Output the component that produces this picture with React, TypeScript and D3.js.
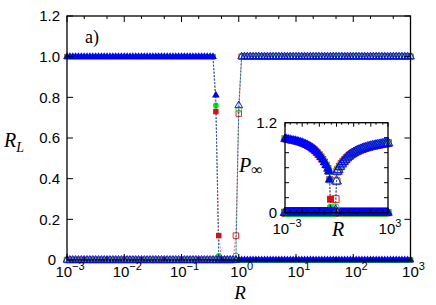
import React, { useEffect, useRef } from 'react';
import * as d3 from 'd3';

const W = 436;
const H = 305;

// sampling grid in log10(R), 20 points per decade
const gridExp = d3.range(-60, 61).map(k => k / 20);

// R_L, filled symbols: 1 at small R, drop near R ~ 0.4
const dropExp = [-0.40, -0.35];
const dropRed = [0.73, 0.12];
const dropGreen = [0.76, 0.02];
const dropBlue = [0.81, 0.005];

// R_L, open symbols: 0 at small R, rise near R ~ 1
const riseExp = [-0.05, 0.0];
const riseRed = [0.12, 0.72];
const riseGreen = [0.02, 0.74];
const riseBlue = [0.0, 0.76];

// inset P_inf, left branch (filled), log10(R) = -3 .. -0.5
const pLeftExp = d3.range(-30, -4).map(k => k / 10);
const pLeft = [0.985, 0.98, 0.975, 0.97, 0.965, 0.961, 0.956, 0.950, 0.944, 0.937,
  0.929, 0.920, 0.910, 0.899, 0.887, 0.873, 0.857, 0.839, 0.819, 0.796,
  0.771, 0.742, 0.710, 0.674, 0.634, 0.588];
// inset P_inf, right branch (open), log10(R) = 0.1 .. 3
const pRightExp = d3.range(1, 31).map(k => k / 10);
const pRight = [0.575, 0.615, 0.65, 0.68, 0.705, 0.73, 0.75, 0.768, 0.784, 0.798,
  0.81, 0.822, 0.832, 0.842, 0.85, 0.858, 0.865, 0.872, 0.878, 0.884,
  0.889, 0.894, 0.899, 0.903, 0.908, 0.912, 0.916, 0.92, 0.924, 0.928];

const insDropExp = [-0.45, -0.40, -0.35];
const insDropRed = [0.55, 0.44, 0.18];
const insDropGreen = [0.55, 0.44, 0.07];
const insDropBlue = [0.55, 0.44, 0.03];
const insRiseExp = [-0.05, 0.0, 0.05];
const insRiseRed = [0.18, 0.42, 0.55];
const insRiseGreen = [0.07, 0.42, 0.55];
const insRiseBlue = [0.03, 0.42, 0.55];

const yTicks = [0, 0.2, 0.4, 0.6, 0.8, 1.0, 1.2];
const yTickLabels = ['0', '0.2', '0.4', '0.6', '0.8', '1.0', '1.2'];
const decades = [-3, -2, -1, 0, 1, 2, 3];
const decadeLabels = ['\u22123', '\u22122', '\u22121', '0', '1', '2', '3'];

const RED = '#ff0000';
const GREEN = '#00ee00';
const BLUE = '#0000ff';

type Pt = [number, number];
const eps = 1e-6;
const pairs = (ex: number[], vs: number[]): Pt[] => ex.map((e, i) => [e, vs[i]] as Pt);
const flat = (lo: number, hi: number, v: number): Pt[] =>
  gridExp.filter(e => e >= lo - eps && e <= hi + eps).map(e => [e, v] as Pt);

const mainSeries = [
  { pts: [...flat(-3, -0.45, 1), ...pairs(dropExp, dropRed), ...flat(-0.30, 3, 0)], color: RED, shape: d3.symbolSquare, filled: true },
  { pts: [...flat(-3, -0.45, 1), ...pairs(dropExp, dropGreen), ...flat(-0.30, 3, 0)], color: GREEN, shape: d3.symbolCircle, filled: true },
  { pts: [...flat(-3, -0.45, 1), ...pairs(dropExp, dropBlue), ...flat(-0.30, 3, 0)], color: BLUE, shape: d3.symbolTriangle, filled: true },
  { pts: [...flat(-3, -0.10, 0), ...pairs(riseExp, riseRed), ...flat(0.05, 3, 1)], color: RED, shape: d3.symbolSquare, filled: false },
  { pts: [...flat(-3, -0.10, 0), ...pairs(riseExp, riseGreen), ...flat(0.05, 3, 1)], color: GREEN, shape: d3.symbolCircle, filled: false },
  { pts: [...flat(-3, -0.10, 0), ...pairs(riseExp, riseBlue), ...flat(0.05, 3, 1)], color: BLUE, shape: d3.symbolTriangle, filled: false },
];

const insetSeries = [
  { pts: [...pairs(pLeftExp, pLeft), ...pairs(insDropExp, insDropRed), ...flat(-0.30, 3, 0)], color: RED, shape: d3.symbolSquare, filled: true },
  { pts: [...pairs(pLeftExp, pLeft), ...pairs(insDropExp, insDropGreen), ...flat(-0.30, 3, 0)], color: GREEN, shape: d3.symbolCircle, filled: true },
  { pts: [...pairs(pLeftExp, pLeft), ...pairs(insDropExp, insDropBlue), ...flat(-0.30, 3, 0)], color: BLUE, shape: d3.symbolTriangle, filled: true },
  { pts: [...flat(-3, -0.10, 0), ...pairs(insRiseExp, insRiseRed), ...pairs(pRightExp, pRight)], color: RED, shape: d3.symbolSquare, filled: false },
  { pts: [...flat(-3, -0.10, 0), ...pairs(insRiseExp, insRiseGreen), ...pairs(pRightExp, pRight)], color: GREEN, shape: d3.symbolCircle, filled: false },
  { pts: [...flat(-3, -0.10, 0), ...pairs(insRiseExp, insRiseBlue), ...pairs(pRightExp, pRight)], color: BLUE, shape: d3.symbolTriangle, filled: false },
];

const sizeFor = (shape: any, k: number) =>
  k * (shape === d3.symbolSquare ? 30 : shape === d3.symbolCircle ? 26 : 26);

function drawPanel(g: any, x: any, y: any, series: any[], tick: number, k: number) {
  const [x0, x1] = x.range();
  const [y0, y1] = y.range();

  series.forEach(s => {
    const line = d3.line<Pt>().x(d => x(10 ** d[0])).y(d => y(d[1]));
    g.append('path')
      .attr('d', line(s.pts))
      .attr('fill', 'none')
      .attr('stroke', s.color)
      .attr('stroke-width', 0.6)
      .attr('stroke-dasharray', '2,1.5');
    const sym = d3.symbol().type(s.shape).size(sizeFor(s.shape, k));
    g.selectAll(null)
      .data(s.pts)
      .join('path')
      .attr('transform', (d: Pt) => `translate(${x(10 ** d[0])},${y(d[1])})`)
      .attr('d', sym())
      .attr('fill', s.filled ? s.color : 'none')
      .attr('stroke', s.filled ? 'none' : s.color)
      .attr('stroke-width', 0.9);
  });

  // ticks
  const tg = g.append('g').attr('stroke', '#000').attr('stroke-width', 1);
  yTicks.forEach(t => {
    tg.append('line').attr('x1', x0).attr('x2', x0 + tick).attr('y1', y(t)).attr('y2', y(t));
    tg.append('line').attr('x1', x1).attr('x2', x1 - tick).attr('y1', y(t)).attr('y2', y(t));
  });
  decades.forEach(d => {
    const px = x(10 ** d);
    tg.append('line').attr('x1', px).attr('x2', px).attr('y1', y0).attr('y2', y0 - tick);
    tg.append('line').attr('x1', px).attr('x2', px).attr('y1', y1).attr('y2', y1 + tick);
    if (d < 3) {
      [2, 5].forEach(m => {
        const mx = x(m * 10 ** d);
        tg.append('line').attr('x1', mx).attr('x2', mx).attr('y1', y0).attr('y2', y0 - tick / 2);
        tg.append('line').attr('x1', mx).attr('x2', mx).attr('y1', y1).attr('y2', y1 + tick / 2);
      });
    }
  });

  g.append('rect')
    .attr('x', x0).attr('y', y1)
    .attr('width', x1 - x0).attr('height', y0 - y1)
    .attr('fill', 'none').attr('stroke', '#000').attr('stroke-width', 1.3);
}

export default function App() {
  const svgRef = useRef<SVGSVGElement>(null);

  useEffect(() => {
    const svg = d3.select(svgRef.current);
    svg.selectAll('*').remove();

    const sans = 'Liberation Sans, Arial, Helvetica, sans-serif';
    const serif = 'Liberation Serif, Times New Roman, serif';

    const x = d3.scaleLog().domain([1e-3, 1e3]).range([67, 410.5]);
    const y = d3.scaleLinear().domain([0, 1.2]).range([260, 16]);

    const main = svg.append('g');
    drawPanel(main, x, y, mainSeries, 6, 1);

    // y tick labels
    yTicks.forEach((t, i) => {
      main.append('text')
        .attr('x', t === 0 ? 56 : 60).attr('y', y(t)).attr('dy', t === 0 ? '0.3em' : '0.36em')
        .attr('text-anchor', 'end')
        .attr('font-family', sans).attr('font-size', 15)
        .text(yTickLabels[i]);
    });
    // x tick labels
    decades.forEach((d, i) => {
      const t = main.append('text')
        .attr('x', x(10 ** d) + 3).attr('y', 277)
        .attr('text-anchor', 'middle')
        .attr('font-family', sans).attr('font-size', 15);
      t.append('tspan').text('10');
      t.append('tspan').attr('dy', -7).attr('font-size', 11).text(decadeLabels[i]);
    });

    main.append('text')
      .attr('x', 240).attr('y', 298.5).attr('text-anchor', 'middle')
      .attr('font-family', serif).attr('font-style', 'italic').attr('font-size', 19)
      .text('R');
    const rl = main.append('text')
      .attr('x', 4).attr('y', 147)
      .attr('font-family', serif).attr('font-style', 'italic').attr('font-size', 20);
    rl.append('tspan').text('R');
    rl.append('tspan').attr('dy', 5).attr('font-size', 14).text('L');

    main.append('text')
      .attr('x', 85).attr('y', 43)
      .attr('font-family', serif).attr('font-size', 18)
      .text('a)');

    // inset
    const ix = d3.scaleLog().domain([1e-3, 1e3]).range([285, 388]);
    const iy = d3.scaleLinear().domain([0, 1.2]).range([212.7, 122.7]);
    const inset = svg.append('g');
    drawPanel(inset, ix, iy, insetSeries, 4, 1.6);

    [[1.2, '1.2'], [0, '0']].forEach(([v, lab]) => {
      inset.append('text')
        .attr('x', 277).attr('y', iy(v as number)).attr('dy', '0.36em')
        .attr('text-anchor', 'end')
        .attr('font-family', sans).attr('font-size', 15)
        .text(lab as string);
    });
    [[-3, '\u22123'], [3, '3']].forEach(([d, lab]) => {
      const t = inset.append('text')
        .attr('x', ix(10 ** (d as number)) + 2).attr('y', 234)
        .attr('text-anchor', 'middle')
        .attr('font-family', sans).attr('font-size', 15);
      t.append('tspan').text('10');
      t.append('tspan').attr('dy', -7).attr('font-size', 11).text(lab as string);
    });
    inset.append('text')
      .attr('x', 338).attr('y', 236).attr('text-anchor', 'middle')
      .attr('font-family', serif).attr('font-style', 'italic').attr('font-size', 20)
      .text('R');
    const pinf = inset.append('text')
      .attr('x', 239).attr('y', 172)
      .attr('font-family', serif).attr('font-style', 'italic').attr('font-size', 20);
    pinf.append('tspan').text('P');
    pinf.append('tspan').attr('dy', 3).attr('font-style', 'normal').attr('font-size', 16).text('\u221e');
  }, []);

  return (
    <svg ref={svgRef} width={W} height={H}
      style={{ position: 'absolute', left: 0, top: 0, background: '#fff' }} />
  );
}
